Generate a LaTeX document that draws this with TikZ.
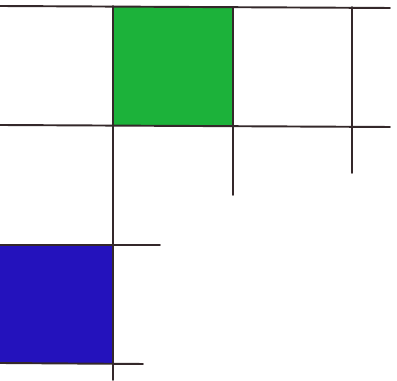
\documentclass[tikz,border=0pt]{standalone}
\usepackage{xcolor}
\usepackage{tikz}
\usetikzlibrary{calc}
\definecolor{cellgreen}{RGB}{28,178,58}
\definecolor{cellblue}{RGB}{36,18,188}
\definecolor{ink}{RGB}{52,40,42}
\begin{document}
\begin{tikzpicture}[x=.02cm,y=-.02cm]
\tikzset{gridline/.style={line width=1.1pt,draw=ink,line cap=round},
cell/.style={draw=none}}
\useasboundingbox (0,0) rectangle (397,381);
\fill[white] (0,0) rectangle (397,381);
% coloured cells
\fill[cell,fill=cellgreen] (113,7) rectangle (233,126);
\fill[cell,fill=cellblue] (0,245) rectangle (113,363);
% horizontal lines
\draw[gridline] (0,6)--(390,8);
\draw[gridline] (0,125)--(390,127);
\draw[gridline] (0,245)--(160,245);
\draw[gridline] (0,363)--(143,364);
% vertical lines
\draw[gridline] (113,6)--(113,380);
\draw[gridline] (233,7)--(233,195);
\draw[gridline] (352,7)--(352,173);
\end{tikzpicture}
\end{document}
